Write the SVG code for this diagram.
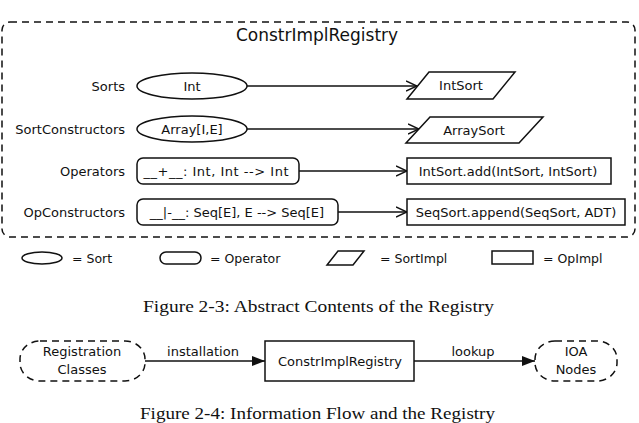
<svg xmlns="http://www.w3.org/2000/svg" width="639" height="423" viewBox="0 0 639 423">
<style>
.s{font-family:"DejaVu Sans","Noto Sans",sans-serif;fill:#111}
.t13{font-size:13px}
.t12{font-size:12.5px}
.mid{text-anchor:middle}
.end{text-anchor:end}
.cap{font-family:"Liberation Serif","DejaVu Serif",serif;font-size:17px;fill:#111}
.sh{fill:#fff;stroke:#111;stroke-width:1.5}
.dash{fill:none;stroke:#111;stroke-width:1.5;stroke-dasharray:7 5}
.ln{fill:none;stroke:#111;stroke-width:1.5}
</style>
<defs>
<marker id="open" viewBox="0 0 12 12" refX="11" refY="6" markerWidth="12" markerHeight="12" markerUnits="userSpaceOnUse" orient="auto">
<path d="M0,1 L11,6 L0,11" fill="none" stroke="#111" stroke-width="1.5"/>
</marker>
<marker id="fill" viewBox="0 0 13 10" refX="13" refY="5" markerWidth="13" markerHeight="10" markerUnits="userSpaceOnUse" orient="auto">
<path d="M0,0 L13,5 L0,10 z" fill="#111"/>
</marker>
</defs>
<rect width="639" height="423" fill="#fff"/>

<g id="registry-container">
<rect x="2" y="22" width="633" height="215" rx="8" class="dash"/>
<text x="317" y="41" class="s mid" font-size="17">ConstrImplRegistry</text>
</g>

<g id="row-labels">
<text x="125" y="91" class="s t13 end">Sorts</text>
<text x="125" y="134" class="s t13 end">SortConstructors</text>
<text x="125" y="176" class="s t13 end">Operators</text>
<text x="125" y="217" class="s t13 end">OpConstructors</text>
</g>

<g id="connectors">
<line x1="247" y1="86" x2="417" y2="86" class="ln" marker-end="url(#open)"/>
<line x1="247" y1="129" x2="419" y2="129" class="ln" marker-end="url(#open)"/>
<line x1="299" y1="171" x2="407" y2="171" class="ln" marker-end="url(#open)"/>
<line x1="338" y1="212" x2="407" y2="212" class="ln" marker-end="url(#open)"/>
<line x1="145" y1="361" x2="265" y2="361" class="ln" marker-end="url(#fill)"/>
<line x1="414" y1="361" x2="535" y2="361" class="ln" marker-end="url(#fill)"/>
<text x="203" y="356" class="s t13 mid">installation</text>
<text x="473" y="356" class="s t13 mid">lookup</text>
</g>

<g id="sort-int">
<ellipse cx="192" cy="86" rx="55" ry="13" class="sh"/>
<text x="192" y="90.5" class="s t13 mid">Int</text>
</g>
<g id="sort-array">
<ellipse cx="192" cy="129" rx="55" ry="13" class="sh"/>
<text x="192" y="133.5" class="s t13 mid">Array[I,E]</text>
</g>
<g id="impl-intsort">
<polygon points="429,72 515,72 493,99 407,99" class="sh"/>
<text x="461" y="90" class="s t13 mid">IntSort</text>
</g>
<g id="impl-arraysort">
<polygon points="430,117 543,117 519,143 406,143" class="sh"/>
<text x="474" y="134.5" class="s t13 mid">ArraySort</text>
</g>
<g id="op-plus">
<rect x="137" y="158" width="162" height="26" rx="6" class="sh"/>
<text x="216" y="175.5" class="s t13 mid" textLength="145" lengthAdjust="spacing">__+__: Int, Int --&gt; Int</text>
</g>
<g id="op-append">
<rect x="137" y="199" width="201" height="26" rx="6" class="sh"/>
<text x="237" y="216.5" class="s t13 mid">__|-__: Seq[E], E --&gt; Seq[E]</text>
</g>
<g id="opimpl-add">
<rect x="407" y="158" width="204" height="26" class="sh"/>
<text x="508" y="175.5" class="s t13 mid">IntSort.add(IntSort, IntSort)</text>
</g>
<g id="opimpl-append">
<rect x="407" y="199" width="218" height="26" class="sh"/>
<text x="516" y="216.5" class="s t13 mid">SeqSort.append(SeqSort, ADT)</text>
</g>

<g id="legend">
<ellipse cx="42" cy="258" rx="20" ry="6" class="sh"/>
<text x="72" y="262.5" class="s t12">= Sort</text>
<rect x="160" y="252" width="41" height="12" rx="6" class="sh"/>
<text x="210" y="262.5" class="s t12">= Operator</text>
<polygon points="338,251 364,251 353,265 327,265" class="sh"/>
<text x="380" y="262.5" class="s t12">= SortImpl</text>
<rect x="492" y="251" width="41" height="13" class="sh"/>
<text x="543" y="262.5" class="s t12">= OpImpl</text>
</g>

<text x="143" y="311.5" class="cap" textLength="351" lengthAdjust="spacingAndGlyphs">Figure 2-3: Abstract Contents of the Registry</text>

<g id="registration-classes">
<rect x="20" y="341" width="125" height="40" rx="20" ry="18" class="dash"/>
<text x="82" y="356" class="s t13 mid">Registration</text>
<text x="82" y="374" class="s t13 mid">Classes</text>
</g>
<g id="constr-impl-registry">
<rect x="265" y="341" width="149" height="40" class="sh"/>
<text x="340" y="366" class="s t13 mid">ConstrImplRegistry</text>
</g>
<g id="ioa-nodes">
<rect x="535" y="341" width="82" height="40" rx="20" ry="18" class="dash"/>
<text x="576" y="356" class="s t13 mid">IOA</text>
<text x="576" y="374" class="s t13 mid">Nodes</text>
</g>

<text x="140" y="418.5" class="cap" textLength="355" lengthAdjust="spacingAndGlyphs">Figure 2-4: Information Flow and the Registry</text>
</svg>
